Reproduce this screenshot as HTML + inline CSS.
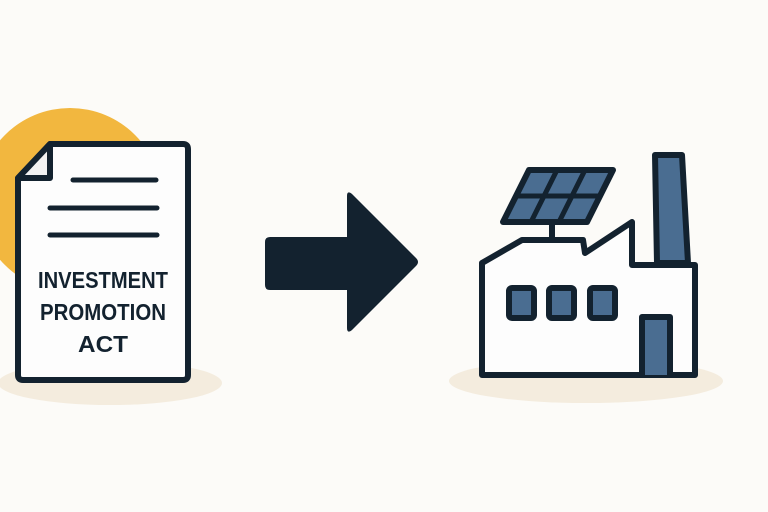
<!DOCTYPE html>
<html><head><style>html,body{margin:0;padding:0;background:#fcfbf8;}svg{display:block}</style></head>
<body>
<svg width="768" height="512" viewBox="0 0 768 512" xmlns="http://www.w3.org/2000/svg">
<rect width="768" height="512" fill="#fcfbf8"/>
<circle cx="70" cy="200" r="92" fill="#f2b73f"/>
<ellipse cx="110" cy="383" rx="112" ry="22" fill="#f4ecde"/>
<ellipse cx="586" cy="381" rx="137" ry="22" fill="#f4ecde"/>
<g stroke="#13222f" stroke-width="6" stroke-linejoin="round" stroke-linecap="round">
<path d="M50 144 H183 Q188 144 188 149 V375 Q188 380 183 380 H23 Q18 380 18 375 V178 Z" fill="#fdfdfd"/>
<path d="M50 144 V178 H18 Z" fill="#f2f2f2"/>
<line x1="73" y1="180" x2="156" y2="180" stroke-width="5"/>
<line x1="50" y1="208" x2="157" y2="208" stroke-width="5"/>
<line x1="50" y1="235" x2="157" y2="235" stroke-width="5"/>
</g>
<g font-family="'Liberation Sans',sans-serif" font-weight="bold" font-size="23" fill="#13222f" text-anchor="middle">
<text x="103" y="288" textLength="130" lengthAdjust="spacingAndGlyphs">INVESTMENT</text>
<text x="103" y="320" textLength="126" lengthAdjust="spacingAndGlyphs">PROMOTION</text>
<text x="103" y="352" textLength="50" lengthAdjust="spacingAndGlyphs">ACT</text>
</g>
<path d="M270 237 H347 V196 Q347 190 352 194 L416 258 Q420 262 416 266 L352 330 Q347 334 347 328 V290 H270 Q265 290 265 285 V242 Q265 237 270 237 Z" fill="#13222f"/>
<g stroke="#13222f" stroke-width="6" stroke-linejoin="round" stroke-linecap="round">
<path d="M655 155 H682 L688 263 H657 Z" fill="#4a6d91"/>
<line x1="552" y1="222" x2="552" y2="240"/>
<path d="M482 263 L522 240 H583 L585 253 L632 222 V265 H695 V375 H482 Z" fill="#fdfdfd"/>
<path d="M529 170 H613 L587 222 H503 Z" fill="#4a6d91"/>
<line x1="557" y1="170" x2="531" y2="222" stroke-width="5"/>
<line x1="585" y1="170" x2="559" y2="222" stroke-width="5"/>
<line x1="516" y1="196" x2="600" y2="196" stroke-width="5"/>
<rect x="509" y="288" width="25" height="30" rx="3" fill="#4a6d91"/>
<rect x="549" y="288" width="25" height="30" rx="3" fill="#4a6d91"/>
<rect x="590" y="288" width="25" height="30" rx="3" fill="#4a6d91"/>
<path d="M642 375 V317 H670 V375" fill="#4a6d91"/>
</g>
</svg>
</body></html>
